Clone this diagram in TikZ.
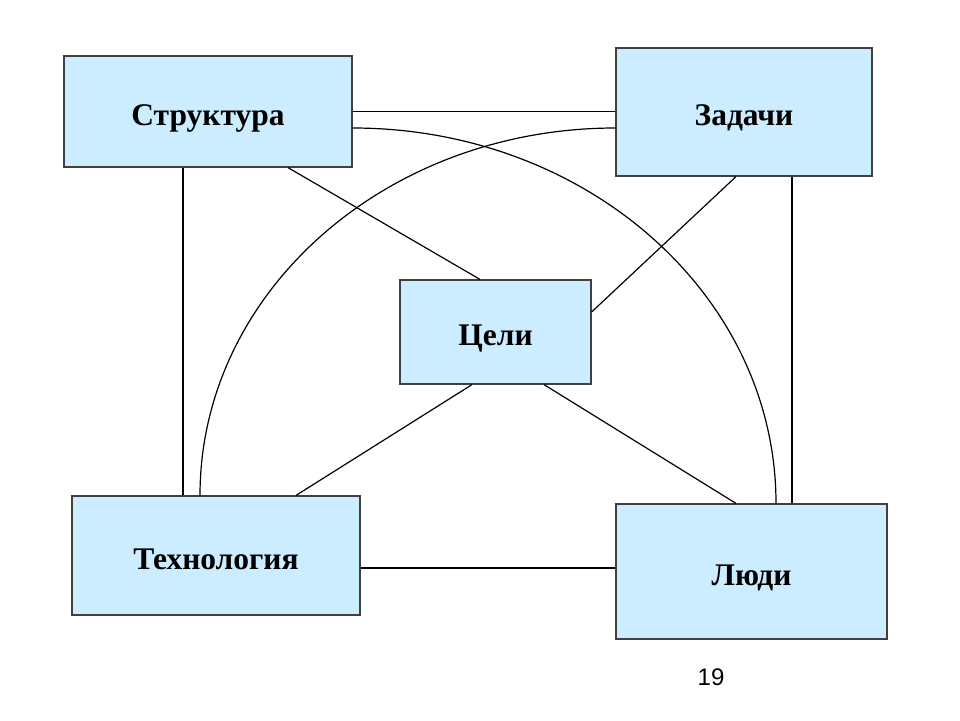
\documentclass[tikz,border=0pt]{standalone}
\usepackage{fontspec}
\setmainfont{Liberation Serif}
\newfontfamily\numfont{Liberation Sans}
\definecolor{boxblue}{RGB}{204,236,255}
\definecolor{boxline}{RGB}{64,64,64}
\begin{document}
\begin{tikzpicture}[x=1pt, y=-1pt,
    block/.style={rectangle, draw=boxline, line width=1.2pt, fill=boxblue, inner sep=0pt,
        text height=27pt, text depth=0pt, font=\bfseries\fontsize{31.5}{36}\selectfont},
    link/.style={line width=1.2pt}]
        \useasboundingbox (0,0) rectangle (960,720);

        % Структура
        \node[block, minimum width=288pt, minimum height=111pt] (structure) at (208,111.5) {Структура};

        % Задачи
        \node[block, minimum width=256pt, minimum height=128pt] (tasks) at (744,112) {Задачи};

        % Цели
        \node[block, minimum width=191pt, minimum height=104pt] (goals) at (495.5,332) {Цели};

        % Технология
        \node[block, minimum width=288pt, minimum height=119pt] (technology) at (216,555.5) {Технология};

        % Люди
        \node[block, minimum width=271pt, minimum height=135pt] (people) at (751.5,571.5) {Люди};

        % Ends of connectors
        \coordinate (s1) at ([xshift=-25pt]structure.south);
        \coordinate (s2) at ([xshift=80pt]structure.south);
        \coordinate (s3) at ([yshift=-16.5pt]structure.east);
        \coordinate (t1) at ([xshift=48pt]tasks.south);
        \coordinate (t2) at ([xshift=-8pt]tasks.south);
        \coordinate (t3) at ([yshift=-16pt]tasks.west);
        \coordinate (g1) at ([xshift=-15.5pt]goals.north);
        \coordinate (g2) at ([yshift=20pt]goals.east);
        \coordinate (g3) at ([xshift=-23.5pt]goals.south);
        \coordinate (g4) at ([xshift=48.5pt]goals.south);
        \coordinate (h1) at ([xshift=-16pt]technology.north);
        \coordinate (h2) at ([xshift=80pt]technology.north);
        \coordinate (h3) at ([yshift=-12.5pt]technology.east);
        \coordinate (p1) at ([xshift=24.5pt]people.north);
        \coordinate (p2) at ([xshift=-15.5pt]people.north);

        % Connections
        \draw[link] (structure.east) -- (structure.east -| tasks.west);
        \draw[link] (s3) .. controls +(234,0) and +(0,-208) .. (p1);
        \draw[link] (t3) .. controls +(-230,0) and +(0,-203) .. (h1);
        \draw[link] (s1) -- (s1 |- technology.north);
        \draw[link] (t1) -- (t1 |- people.north);
        \draw[link] (s2) -- (g1);
        \draw[link] (t2) -- (g2);
        \draw[link] (g3) -- (h2);
        \draw[link] (g4) -- (p2);
        \draw[link] (h3) -- (h3 -| people.west);

        % Page number
        \node[font=\numfont\fontsize{24}{28}\selectfont] (page) at (711,677) {19};
    \end{tikzpicture}
\end{document}
